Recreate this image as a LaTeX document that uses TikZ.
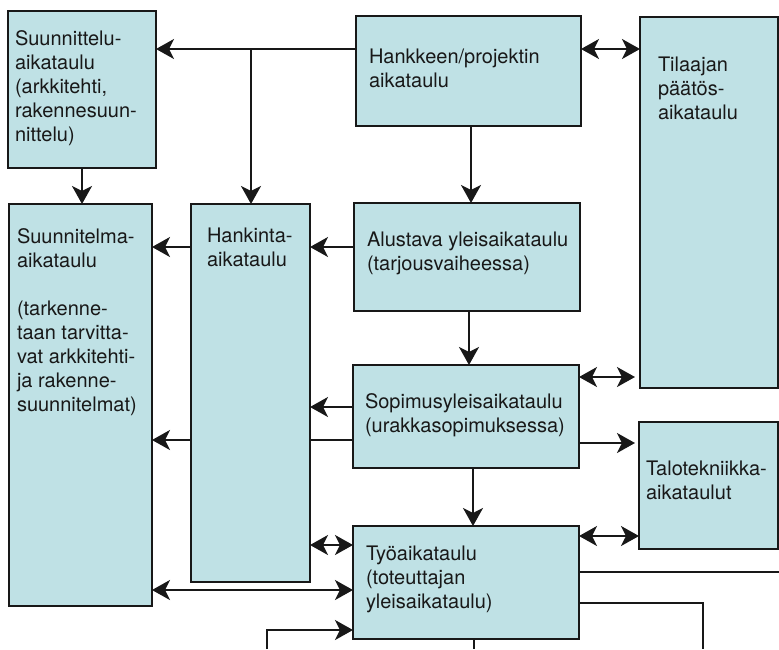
\documentclass[tikz,border=0pt]{standalone}
\usepackage{fontspec}
\setmainfont{TeX Gyre Heros}
\usetikzlibrary{arrows.meta,backgrounds}

\definecolor{boxfill}{RGB}{191,225,229}
\definecolor{ink}{RGB}{24,24,24}

\tikzset{
  schedbox/.style={draw=ink, fill=boxfill, line width=2pt, inner sep=0pt, outer sep=0pt},
  % anchored at the baseline of the last line
  lbl/.style={anchor=base west, inner sep=0pt, outer sep=0pt, align=left, text=ink,
              font=\fontsize{20pt}{24pt}\selectfont},
  conn/.style={draw=ink, line width=2pt},
  arr/.style={conn, -{Stealth[length=18pt, width=20pt, inset=5pt]}},
  darr/.style={conn, {Stealth[length=18pt, width=20pt, inset=5pt]}-{Stealth[length=18pt, width=20pt, inset=5pt]}},
}

% box from (x1,y1) to (x2,y2), image-like coordinates
\newcommand\schedule[5]{%
  \node[schedbox, anchor=north west, minimum width=#4pt-#2pt, minimum height=#5pt-#3pt]
    (#1) at (#2,#3) {};}

\begin{document}
\begin{tikzpicture}[x=1pt, y=-1pt]
  \useasboundingbox (0,0) rectangle (779,649);

  % schedule boxes
  \schedule{suun}{8}{11}{156}{168}
  \schedule{hank}{356}{16}{581}{126}
  \schedule{tilaa}{640}{17}{778}{388}
  \schedule{suplan}{9}{204}{152}{606}
  \schedule{hankinta}{191}{204}{310}{582}
  \schedule{alust}{354}{203}{580}{311}
  \schedule{sopim}{353}{365}{579}{468}
  \schedule{talo}{639}{422}{778}{549}
  \schedule{tyo}{353}{526}{579}{639}

  % box texts
  \node[lbl] (suun-t) at (15,141) {Suunnittelu-\\aikataulu\\(arkkitehti,\\rakennesuun-\\nittelu)};
  \node[lbl] (hank-t) at (369,87) {Hankkeen/projektin\\aikataulu};
  \node[lbl] (tilaa-t) at (658,119) {Tilaajan\\päätös-\\aikataulu};
  \node[lbl] (suplan-t) at (17,411) {Suunnitelma-\\aikataulu\\[24pt](tarkenne-\\taan tarvitta-\\vat arkkitehti-\\ja rakenne-\\suunnitelmat)};
  \node[lbl] (hankinta-t) at (207,266) {Hankinta-\\aikataulu};
  \node[lbl] (alust-t) at (367,270) {Alustava yleisaikataulu\\(tarjousvaiheessa)};
  \node[lbl] (sopim-t) at (365,432) {Sopimusyleisaikataulu\\(urakkasopimuksessa)};
  \node[lbl] (talo-t) at (646,499) {Talotekniikka-\\aikataulut};
  \node[lbl] (tyo-t) at (366,608) {Työaikataulu\\(toteuttajan\\yleisaikataulu)};

  % routing coordinates
  \coordinate (top) at (251,49);
  \coordinate (xsuun) at (82,0);
  \coordinate (xhank) at (471,0);
  \coordinate (xalust) at (469,0);
  \coordinate (xsopim) at (473,0);
  \coordinate (xtyo) at (474,0);
  \coordinate (yalust) at (0,247);
  \coordinate (ytil) at (0,377);
  \coordinate (ysop1) at (0,407);
  \coordinate (ysop2) at (0,440);
  \coordinate (ytalo1) at (0,443);
  \coordinate (ytalo2) at (0,536);
  \coordinate (yhk) at (0,545);
  \coordinate (ysp) at (0,590);
  \coordinate (yin) at (0,630);
  \coordinate (yout1) at (0,572);
  \coordinate (yout2) at (0,603);
  \coordinate (feedin) at (267,649);
  \coordinate (out1) at (779,572);
  \coordinate (turn2) at (703,603);
  \coordinate (out2) at (703,649);
  \coordinate (out3) at (474,649);

  % connectors
  \draw[arr] (top -| hank.west) -- (top -| suun.east);
  \draw[arr] (top) -- (top |- hankinta.north);
  \draw[darr] (top -| hank.east) -- (top -| tilaa.west);
  \draw[arr] (xsuun |- suun.south) -- (xsuun |- suplan.north);
  \draw[arr] (xhank |- hank.south) -- (xhank |- alust.north);
  \draw[arr] (yalust -| alust.west) -- (yalust -| hankinta.east);
  \draw[arr] (yalust -| hankinta.west) -- (yalust -| suplan.east);
  \draw[arr] (xalust |- alust.south) -- (xalust |- sopim.north);
  \draw[darr, shorten >=5pt] (ytil -| sopim.east) -- (ytil -| tilaa.west);
  \draw[arr] (ysop1 -| sopim.west) -- (ysop1 -| hankinta.east);
  \begin{scope}[on background layer]
    \draw[arr] (ysop2 -| sopim.west) -- (ysop2 -| suplan.east);
  \end{scope}
  \draw[arr, shorten >=4pt] (ytalo1 -| sopim.east) -- (ytalo1 -| talo.west);
  \draw[arr] (xsopim |- sopim.south) -- (xsopim |- tyo.north);
  \draw[darr] (ytalo2 -| tyo.east) -- (ytalo2 -| talo.west);
  \draw[darr] (yhk -| hankinta.east) -- (yhk -| tyo.west);
  \draw[darr] (ysp -| suplan.east) -- (ysp -| tyo.west);
  \draw[arr] (feedin) |- (yin -| tyo.west);
  \draw[conn] (yout1 -| tyo.east) -- (out1);
  \draw[conn] (yout2 -| tyo.east) -- (turn2) -- (out2);
  \draw[conn] (xtyo |- tyo.south) -- (out3);
\end{tikzpicture}
\end{document}
